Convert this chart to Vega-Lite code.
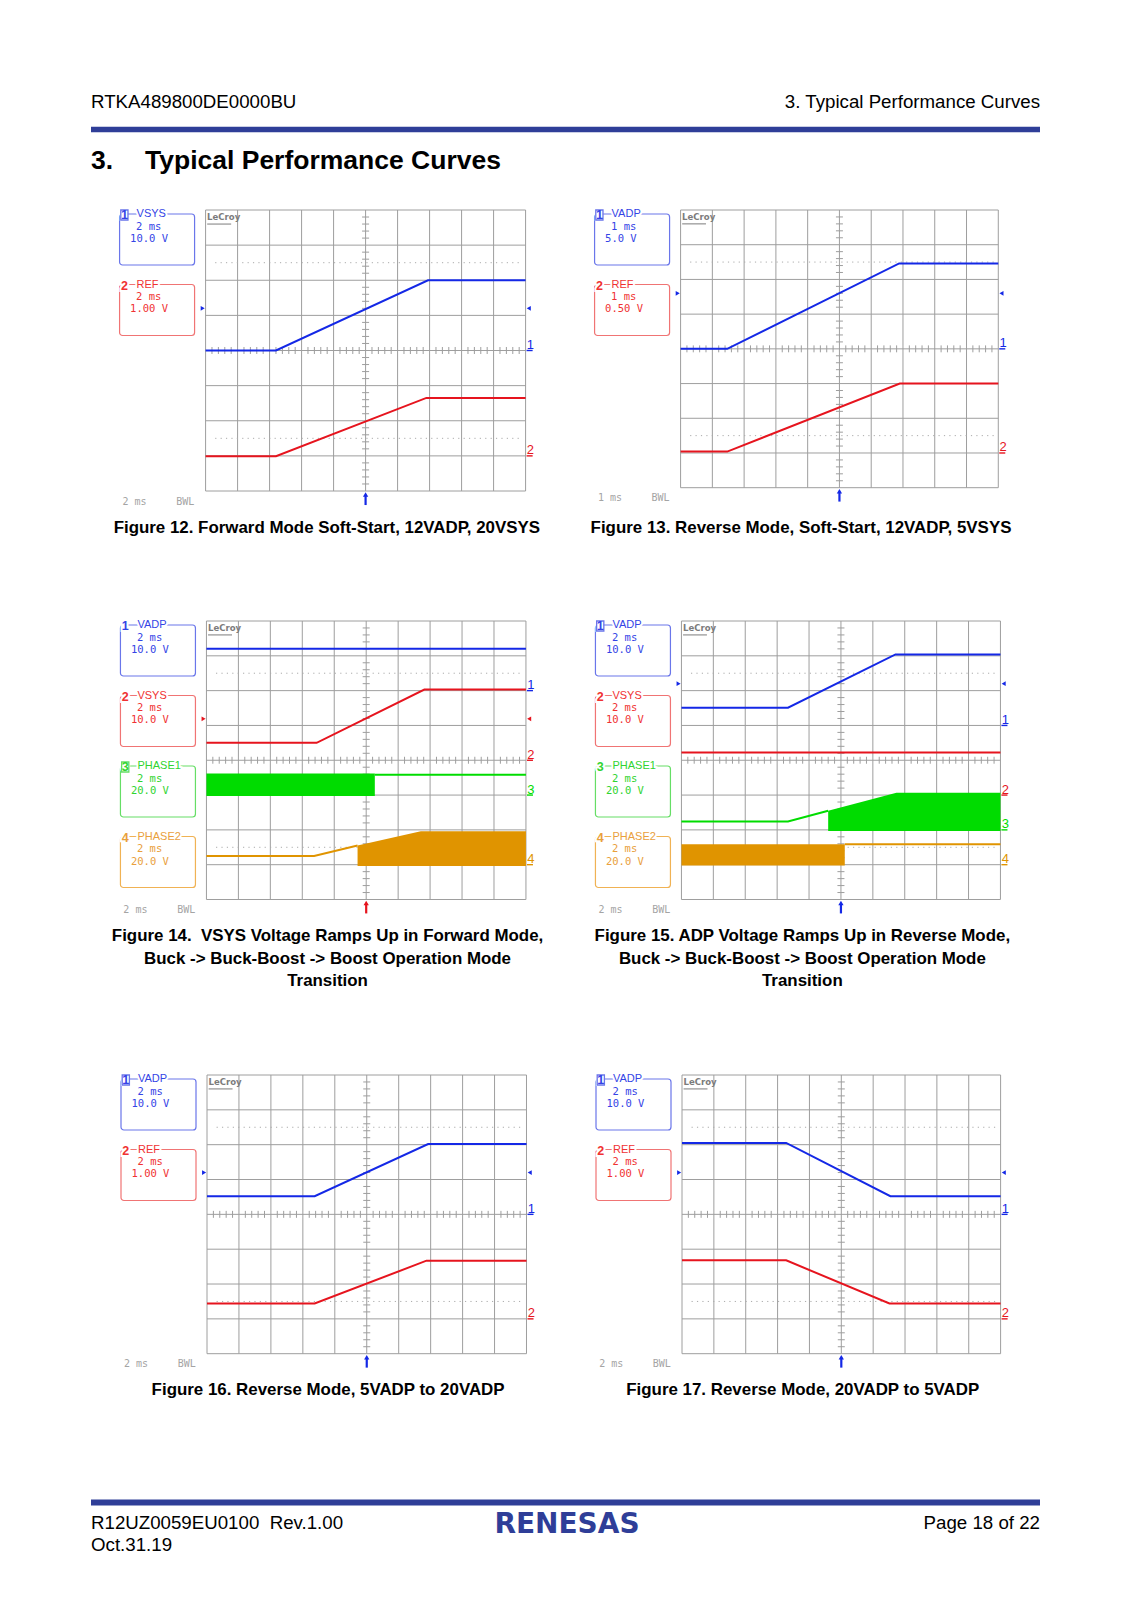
{
"$schema":"https://vega.github.io/schema/vega-lite/v6.json",
"background":"white",
"padding":{"left":91,"right":92,"top":80,"bottom":40},
"autosize":{"type":"pad"},
"config":{"view":{"stroke":null},"axis":{"disable":true},"legend":{"disable":true}},
"datasets":{
"gx":[{"d":0},{"d":1},{"d":2},{"d":3},{"d":4},{"d":5},{"d":6},{"d":7},{"d":8},{"d":9},{"d":10}],
"gy":[{"d":0},{"d":1},{"d":2},{"d":3},{"d":4},{"d":5},{"d":6},{"d":7},{"d":8}],
"gdot":[{"d":1.5},{"d":6.5}],
"mx":[{"d":0.2},{"d":0.4},{"d":0.6},{"d":0.8},{"d":1.2},{"d":1.4},{"d":1.6},{"d":1.8},{"d":2.2},{"d":2.4},{"d":2.6},{"d":2.8},{"d":3.2},{"d":3.4},{"d":3.6},{"d":3.8},{"d":4.2},{"d":4.4},{"d":4.6},{"d":4.8},{"d":5.2},{"d":5.4},{"d":5.6},{"d":5.8},{"d":6.2},{"d":6.4},{"d":6.6},{"d":6.8},{"d":7.2},{"d":7.4},{"d":7.6},{"d":7.8},{"d":8.2},{"d":8.4},{"d":8.6},{"d":8.8},{"d":9.2},{"d":9.4},{"d":9.6},{"d":9.8}],
"my":[{"d":0.2},{"d":0.4},{"d":0.6},{"d":0.8},{"d":1.2},{"d":1.4},{"d":1.6},{"d":1.8},{"d":2.2},{"d":2.4},{"d":2.6},{"d":2.8},{"d":3.2},{"d":3.4},{"d":3.6},{"d":3.8},{"d":4.2},{"d":4.4},{"d":4.6},{"d":4.8},{"d":5.2},{"d":5.4},{"d":5.6},{"d":5.8},{"d":6.2},{"d":6.4},{"d":6.6},{"d":6.8},{"d":7.2},{"d":7.4},{"d":7.6},{"d":7.8}]
},
"spacing":0,
"center":true,
"vconcat":[
{"width":949,"height":120.3,
 "layer":[
  {"data":{"values":[{"t":"RTKA489800DE0000BU"}]},"mark":{"type":"text","align":"left","baseline":"middle","font":"Liberation Sans","fontSize":18.7,"color":"black"},"encoding":{"x":{"value":0},"y":{"value":22},"text":{"field":"t"}}},
  {"data":{"values":[{"t":"3. Typical Performance Curves"}]},"mark":{"type":"text","align":"right","baseline":"middle","font":"Liberation Sans","fontSize":18.7,"color":"black"},"encoding":{"x":{"value":"width"},"y":{"value":22},"text":{"field":"t"}}},
  {"data":{"values":[{"t":"rule"}]},"mark":{"type":"rect","color":"#2f3e98"},"encoding":{"x":{"value":0},"x2":{"value":"width"},"y":{"value":46.7},"y2":{"value":52.3}}},
  {"data":{"values":[{"t":"3."}]},"mark":{"type":"text","align":"left","baseline":"middle","font":"Liberation Sans","fontSize":26.5,"fontWeight":"bold","color":"black"},"encoding":{"x":{"value":0},"y":{"value":81},"text":{"field":"t"}}},
  {"data":{"values":[{"t":"Typical Performance Curves"}]},"mark":{"type":"text","align":"left","baseline":"middle","font":"Liberation Sans","fontSize":26.5,"fontWeight":"bold","color":"black"},"encoding":{"x":{"value":54},"y":{"value":81},"text":{"field":"t"}}}
 ]},
{"hconcat":[
 {"width":75,"height":270.5,
  "data":{"values":[{"ch":"1","name":"VSYS","tdiv":"2 ms","vdiv":"10.0 V","sel":true},{"ch":"2","name":"REF","tdiv":"2 ms","vdiv":"1.00 V","sel":false}]},
  "encoding":{"y":{"field":"ch","type":"nominal","scale":{"domain":["1","2","3","4"],"paddingInner":0.277,"paddingOuter":0.0567}}},
  "layer":[
   {"mark":{"type":"rect","fill":"white","cornerRadius":3,"strokeWidth":1.2},"encoding":{"x":{"value":0},"x2":{"value":"width"},"stroke":{"field":"ch","type":"nominal","scale":{"domain":["1","2","3","4"],"range":["#6a76ea","#f07474","#66de66","#f0b254"]}}}},
   {"mark":{"type":"text","align":"center","baseline":"middle","dy":1,"font":"Liberation Sans","fontSize":12.5,"fontWeight":"bold","fill":"white","stroke":"white","strokeWidth":4},"encoding":{"x":{"value":4.8},"y":{"field":"ch","type":"nominal","bandPosition":0},"text":{"field":"ch"}}},
   {"mark":{"type":"text","align":"left","baseline":"middle","font":"Liberation Sans","fontSize":11,"fill":"white","stroke":"white","strokeWidth":4},"encoding":{"x":{"value":17},"y":{"field":"ch","type":"nominal","bandPosition":0},"text":{"field":"name"}}},
   {"transform":[{"filter":"datum.sel"}],"mark":{"type":"point","shape":"M-0.45,-0.5H0.45V0.75H-0.45Z","size":256,"filled":false,"strokeWidth":1.3,"opacity":1},"encoding":{"x":{"value":4.8},"y":{"field":"ch","type":"nominal","bandPosition":0},"stroke":{"field":"ch","type":"nominal","scale":{"domain":["1","2","3","4"],"range":["#6a76ea","#f07474","#66de66","#f0b254"]}}}},
   {"mark":{"type":"text","align":"center","baseline":"middle","dy":1,"font":"Liberation Sans","fontSize":12.5,"fontWeight":"bold"},"encoding":{"x":{"value":4.8},"y":{"field":"ch","type":"nominal","bandPosition":0},"text":{"field":"ch"},"fill":{"field":"ch","type":"nominal","scale":{"domain":["1","2","3","4"],"range":["#3444e6","#f03232","#30d430","#e9a03c"]}}}},
   {"mark":{"type":"text","align":"left","baseline":"middle","font":"Liberation Sans","fontSize":11},"encoding":{"x":{"value":17},"y":{"field":"ch","type":"nominal","bandPosition":0},"text":{"field":"name"},"fill":{"field":"ch","type":"nominal","scale":{"domain":["1","2","3","4"],"range":["#3444e6","#f03232","#30d430","#e9a03c"]}}}},
   {"mark":{"type":"text","align":"left","baseline":"middle","font":"DejaVu Sans Mono","fontSize":10.5},"encoding":{"x":{"value":16.5},"y":{"field":"ch","type":"nominal","bandPosition":0.25},"text":{"field":"tdiv"},"fill":{"field":"ch","type":"nominal","scale":{"domain":["1","2","3","4"],"range":["#3444e6","#f03232","#30d430","#e9a03c"]}}}},
   {"mark":{"type":"text","align":"left","baseline":"middle","font":"DejaVu Sans Mono","fontSize":10.5},"encoding":{"x":{"value":10.5},"y":{"field":"ch","type":"nominal","bandPosition":0.49},"text":{"field":"vdiv"},"fill":{"field":"ch","type":"nominal","scale":{"domain":["1","2","3","4"],"range":["#3444e6","#f03232","#30d430","#e9a03c"]}}}}
  ]},
 {"width":378,"height":281,
  "data":{"values":[
   {"kind":"line","ch":"1","k":"1","t":0,"v":4.0},{"kind":"line","ch":"1","k":"1","t":2.2,"v":4.0},{"kind":"line","ch":"1","k":"1","t":6.95,"v":6.0},{"kind":"line","ch":"1","k":"1","t":10,"v":6.0},
   {"kind":"line","ch":"2","k":"2","t":0,"v":0.99},{"kind":"line","ch":"2","k":"2","t":2.2,"v":0.99},{"kind":"line","ch":"2","k":"2","t":6.9,"v":2.65},{"kind":"line","ch":"2","k":"2","t":10,"v":2.65},
   {"kind":"trig","ch":"1","v":5.2},{"kind":"gnd","ch":"1","v":4},{"kind":"gnd","ch":"2","v":1},{"kind":"arrow","ch":"1"},
   {"kind":"tb","tb":"2 ms","bw":"BWL"},
   {"kind":"cap","cap":"Figure 12. Forward Mode Soft-Start, 12VADP, 20VSYS"}]},
  "layer":[
   {"data":{"name":"gx"},"mark":{"type":"rule","color":"#9e9e9e","strokeWidth":1},"encoding":{"x":{"field":"d","type":"quantitative","scale":{"domain":[0,11.8125],"nice":false,"zero":false}},"y":{"datum":0,"type":"quantitative","scale":{"domain":[0,8],"nice":false,"zero":false}},"y2":{"datum":8}}},
   {"data":{"name":"gy"},"mark":{"type":"rule","color":"#9e9e9e","strokeWidth":1},"encoding":{"y":{"field":"d","type":"quantitative"},"x":{"datum":0,"type":"quantitative"},"x2":{"datum":10}}},
   {"data":{"name":"gdot"},"mark":{"type":"rule","color":"#ababab","strokeWidth":1,"strokeDash":[1.2,4.2]},"encoding":{"y":{"field":"d","type":"quantitative"},"x":{"datum":0.3,"type":"quantitative"},"x2":{"datum":9.9}}},
   {"data":{"name":"mx"},"mark":{"type":"rule","color":"#9e9e9e","strokeWidth":1},"encoding":{"x":{"field":"d","type":"quantitative"},"y":{"datum":3.9,"type":"quantitative"},"y2":{"datum":4.1}}},
   {"data":{"name":"my"},"mark":{"type":"rule","color":"#9e9e9e","strokeWidth":1},"encoding":{"y":{"field":"d","type":"quantitative"},"x":{"datum":4.89,"type":"quantitative"},"x2":{"datum":5.11}}},
   {"data":{"values":[{"t":"LeCroy"}]},"mark":{"type":"text","align":"left","baseline":"top","dx":1.5,"dy":2,"font":"DejaVu Sans Condensed","fontSize":9.5,"fontWeight":"bold","color":"#7c7c7c"},"encoding":{"x":{"datum":0,"type":"quantitative"},"y":{"datum":8,"type":"quantitative"},"text":{"field":"t"}}},
   {"data":{"values":[{"t":"LeCroy"}]},"mark":{"type":"rule","color":"#7c7c7c","strokeWidth":1},"encoding":{"x":{"datum":0.05,"type":"quantitative"},"x2":{"datum":0.8},"y":{"datum":7.6,"type":"quantitative"}}},
   {"data":{"values":[{"t":"top"}]},"mark":{"type":"rule","strokeWidth":0,"strokeOpacity":0},"encoding":{"x":{"datum":0,"type":"quantitative"},"x2":{"datum":10},"y":{"datum":8.24,"type":"quantitative"}}},
   {"data":{"values":[{"t":"bottom"}]},"mark":{"type":"rule","strokeWidth":0,"strokeOpacity":0},"encoding":{"x":{"datum":0,"type":"quantitative"},"x2":{"datum":10},"y":{"datum":-3.435,"type":"quantitative"}}},
   {"transform":[{"filter":"datum.kind=='band'"}],"mark":{"type":"area","opacity":1},"encoding":{"x":{"field":"t","type":"quantitative"},"y":{"field":"hi","type":"quantitative"},"y2":{"field":"lo"},"detail":{"field":"k"},"color":{"field":"ch","type":"nominal","scale":{"domain":["1","2","3","4"],"range":["#1428e6","#e6141e","#00dc00","#e09400"]}}}},
   {"transform":[{"filter":"datum.kind=='line'"}],"mark":{"type":"line","strokeWidth":2},"encoding":{"x":{"field":"t","type":"quantitative"},"y":{"field":"v","type":"quantitative"},"detail":{"field":"k"},"color":{"field":"ch","type":"nominal","scale":{"domain":["1","2","3","4"],"range":["#1428e6","#e6141e","#00dc00","#e09400"]}}}},
   {"transform":[{"filter":"datum.kind=='trig'"}],"mark":{"type":"point","shape":"triangle-right","filled":true,"size":22,"opacity":1},"encoding":{"x":{"datum":-0.09,"type":"quantitative"},"y":{"field":"v","type":"quantitative"},"color":{"field":"ch","type":"nominal","scale":{"domain":["1","2","3","4"],"range":["#1428e6","#e6141e","#00dc00","#e09400"]}}}},
   {"transform":[{"filter":"datum.kind=='trig'"}],"mark":{"type":"point","shape":"triangle-left","filled":true,"size":22,"opacity":1},"encoding":{"x":{"datum":10.1,"type":"quantitative"},"y":{"field":"v","type":"quantitative"},"color":{"field":"ch","type":"nominal","scale":{"domain":["1","2","3","4"],"range":["#1428e6","#e6141e","#00dc00","#e09400"]}}}},
   {"transform":[{"filter":"datum.kind=='gnd'"}],"mark":{"type":"text","align":"left","baseline":"alphabetic","dx":1.2,"dy":-1.5,"font":"Liberation Sans","fontSize":13},"encoding":{"x":{"datum":10,"type":"quantitative"},"y":{"field":"v","type":"quantitative"},"text":{"field":"ch"},"color":{"field":"ch","type":"nominal","scale":{"domain":["1","2","3","4"],"range":["#1428e6","#e6141e","#00dc00","#e09400"]}}}},
   {"transform":[{"filter":"datum.kind=='gnd'"}],"mark":{"type":"rule","strokeWidth":1.4},"encoding":{"x":{"datum":10.03,"type":"quantitative"},"x2":{"datum":10.22},"y":{"field":"v","type":"quantitative"},"color":{"field":"ch","type":"nominal","scale":{"domain":["1","2","3","4"],"range":["#1428e6","#e6141e","#00dc00","#e09400"]}}}},
   {"transform":[{"filter":"datum.kind=='arrow'"}],"mark":{"type":"rule","strokeWidth":2.2},"encoding":{"x":{"datum":5,"type":"quantitative"},"y":{"datum":-0.12,"type":"quantitative"},"y2":{"datum":-0.4},"color":{"field":"ch","type":"nominal","scale":{"domain":["1","2","3","4"],"range":["#1428e6","#e6141e","#00dc00","#e09400"]}}}},
   {"transform":[{"filter":"datum.kind=='arrow'"}],"mark":{"type":"point","shape":"triangle-up","filled":true,"size":28,"opacity":1},"encoding":{"x":{"datum":5,"type":"quantitative"},"y":{"datum":-0.1,"type":"quantitative"},"color":{"field":"ch","type":"nominal","scale":{"domain":["1","2","3","4"],"range":["#1428e6","#e6141e","#00dc00","#e09400"]}}}},
   {"transform":[{"filter":"datum.kind=='tb'"}],"mark":{"type":"text","align":"left","baseline":"middle","font":"DejaVu Sans Mono","fontSize":10,"color":"#a4a4a4"},"encoding":{"x":{"datum":-2.6,"type":"quantitative"},"y":{"datum":-0.31,"type":"quantitative"},"text":{"field":"tb"}}},
   {"transform":[{"filter":"datum.kind=='tb'"}],"mark":{"type":"text","align":"right","baseline":"middle","font":"DejaVu Sans Mono","fontSize":10,"color":"#a4a4a4"},"encoding":{"x":{"datum":-0.35,"type":"quantitative"},"y":{"datum":-0.31,"type":"quantitative"},"text":{"field":"bw"}}},
   {"transform":[{"filter":"datum.kind=='cap'"}],"mark":{"type":"text","align":"center","baseline":"top","font":"Liberation Sans","fontSize":16.9,"fontWeight":"bold","color":"black","lineHeight":22.7,"lineBreak":"\n"},"encoding":{"x":{"datum":3.79,"type":"quantitative"},"y":{"datum":-0.82,"type":"quantitative"},"text":{"field":"cap"}}}
  ]},
 {"width":75,"height":270.5,
  "data":{"values":[{"ch":"1","name":"VADP","tdiv":"1 ms","vdiv":"5.0 V","sel":true},{"ch":"2","name":"REF","tdiv":"1 ms","vdiv":"0.50 V","sel":false}]},
  "encoding":{"y":{"field":"ch","type":"nominal","scale":{"domain":["1","2","3","4"],"paddingInner":0.277,"paddingOuter":0.0567}}},
  "layer":[
   {"mark":{"type":"rect","fill":"white","cornerRadius":3,"strokeWidth":1.2},"encoding":{"x":{"value":0},"x2":{"value":"width"},"stroke":{"field":"ch","type":"nominal","scale":{"domain":["1","2","3","4"],"range":["#6a76ea","#f07474","#66de66","#f0b254"]}}}},
   {"mark":{"type":"text","align":"center","baseline":"middle","dy":1,"font":"Liberation Sans","fontSize":12.5,"fontWeight":"bold","fill":"white","stroke":"white","strokeWidth":4},"encoding":{"x":{"value":4.8},"y":{"field":"ch","type":"nominal","bandPosition":0},"text":{"field":"ch"}}},
   {"mark":{"type":"text","align":"left","baseline":"middle","font":"Liberation Sans","fontSize":11,"fill":"white","stroke":"white","strokeWidth":4},"encoding":{"x":{"value":17},"y":{"field":"ch","type":"nominal","bandPosition":0},"text":{"field":"name"}}},
   {"transform":[{"filter":"datum.sel"}],"mark":{"type":"point","shape":"M-0.45,-0.5H0.45V0.75H-0.45Z","size":256,"filled":false,"strokeWidth":1.3,"opacity":1},"encoding":{"x":{"value":4.8},"y":{"field":"ch","type":"nominal","bandPosition":0},"stroke":{"field":"ch","type":"nominal","scale":{"domain":["1","2","3","4"],"range":["#6a76ea","#f07474","#66de66","#f0b254"]}}}},
   {"mark":{"type":"text","align":"center","baseline":"middle","dy":1,"font":"Liberation Sans","fontSize":12.5,"fontWeight":"bold"},"encoding":{"x":{"value":4.8},"y":{"field":"ch","type":"nominal","bandPosition":0},"text":{"field":"ch"},"fill":{"field":"ch","type":"nominal","scale":{"domain":["1","2","3","4"],"range":["#3444e6","#f03232","#30d430","#e9a03c"]}}}},
   {"mark":{"type":"text","align":"left","baseline":"middle","font":"Liberation Sans","fontSize":11},"encoding":{"x":{"value":17},"y":{"field":"ch","type":"nominal","bandPosition":0},"text":{"field":"name"},"fill":{"field":"ch","type":"nominal","scale":{"domain":["1","2","3","4"],"range":["#3444e6","#f03232","#30d430","#e9a03c"]}}}},
   {"mark":{"type":"text","align":"left","baseline":"middle","font":"DejaVu Sans Mono","fontSize":10.5},"encoding":{"x":{"value":16.5},"y":{"field":"ch","type":"nominal","bandPosition":0.25},"text":{"field":"tdiv"},"fill":{"field":"ch","type":"nominal","scale":{"domain":["1","2","3","4"],"range":["#3444e6","#f03232","#30d430","#e9a03c"]}}}},
   {"mark":{"type":"text","align":"left","baseline":"middle","font":"DejaVu Sans Mono","fontSize":10.5},"encoding":{"x":{"value":10.5},"y":{"field":"ch","type":"nominal","bandPosition":0.49},"text":{"field":"vdiv"},"fill":{"field":"ch","type":"nominal","scale":{"domain":["1","2","3","4"],"range":["#3444e6","#f03232","#30d430","#e9a03c"]}}}}
  ]},
 {"width":328,"height":277.7,
  "data":{"values":[
   {"kind":"line","ch":"1","k":"1","t":0,"v":4.0},{"kind":"line","ch":"1","k":"1","t":1.47,"v":4.0},{"kind":"line","ch":"1","k":"1","t":6.88,"v":6.46},{"kind":"line","ch":"1","k":"1","t":10,"v":6.46},
   {"kind":"line","ch":"2","k":"2","t":0,"v":1.04},{"kind":"line","ch":"2","k":"2","t":1.47,"v":1.04},{"kind":"line","ch":"2","k":"2","t":6.9,"v":3.0},{"kind":"line","ch":"2","k":"2","t":10,"v":3.0},
   {"kind":"trig","ch":"1","v":5.6},{"kind":"gnd","ch":"1","v":4},{"kind":"gnd","ch":"2","v":1},{"kind":"arrow","ch":"1"},
   {"kind":"tb","tb":"1 ms","bw":"BWL"},
   {"kind":"cap","cap":"Figure 13. Reverse Mode, Soft-Start, 12VADP, 5VSYS"}]},
  "layer":[
   {"data":{"name":"gx"},"mark":{"type":"rule","color":"#9e9e9e","strokeWidth":1},"encoding":{"x":{"field":"d","type":"quantitative","scale":{"domain":[0,10.324],"nice":false,"zero":false}},"y":{"datum":0,"type":"quantitative","scale":{"domain":[0,8],"nice":false,"zero":false}},"y2":{"datum":8}}},
   {"data":{"name":"gy"},"mark":{"type":"rule","color":"#9e9e9e","strokeWidth":1},"encoding":{"y":{"field":"d","type":"quantitative"},"x":{"datum":0,"type":"quantitative"},"x2":{"datum":10}}},
   {"data":{"name":"gdot"},"mark":{"type":"rule","color":"#ababab","strokeWidth":1,"strokeDash":[1.2,4.2]},"encoding":{"y":{"field":"d","type":"quantitative"},"x":{"datum":0.3,"type":"quantitative"},"x2":{"datum":9.9}}},
   {"data":{"name":"mx"},"mark":{"type":"rule","color":"#9e9e9e","strokeWidth":1},"encoding":{"x":{"field":"d","type":"quantitative"},"y":{"datum":3.9,"type":"quantitative"},"y2":{"datum":4.1}}},
   {"data":{"name":"my"},"mark":{"type":"rule","color":"#9e9e9e","strokeWidth":1},"encoding":{"y":{"field":"d","type":"quantitative"},"x":{"datum":4.89,"type":"quantitative"},"x2":{"datum":5.11}}},
   {"data":{"values":[{"t":"LeCroy"}]},"mark":{"type":"text","align":"left","baseline":"top","dx":1.5,"dy":2,"font":"DejaVu Sans Condensed","fontSize":9.5,"fontWeight":"bold","color":"#7c7c7c"},"encoding":{"x":{"datum":0,"type":"quantitative"},"y":{"datum":8,"type":"quantitative"},"text":{"field":"t"}}},
   {"data":{"values":[{"t":"LeCroy"}]},"mark":{"type":"rule","color":"#7c7c7c","strokeWidth":1},"encoding":{"x":{"datum":0.05,"type":"quantitative"},"x2":{"datum":0.8},"y":{"datum":7.6,"type":"quantitative"}}},
   {"transform":[{"filter":"datum.kind=='band'"}],"mark":{"type":"area","opacity":1},"encoding":{"x":{"field":"t","type":"quantitative"},"y":{"field":"hi","type":"quantitative"},"y2":{"field":"lo"},"detail":{"field":"k"},"color":{"field":"ch","type":"nominal","scale":{"domain":["1","2","3","4"],"range":["#1428e6","#e6141e","#00dc00","#e09400"]}}}},
   {"transform":[{"filter":"datum.kind=='line'"}],"mark":{"type":"line","strokeWidth":2},"encoding":{"x":{"field":"t","type":"quantitative"},"y":{"field":"v","type":"quantitative"},"detail":{"field":"k"},"color":{"field":"ch","type":"nominal","scale":{"domain":["1","2","3","4"],"range":["#1428e6","#e6141e","#00dc00","#e09400"]}}}},
   {"transform":[{"filter":"datum.kind=='trig'"}],"mark":{"type":"point","shape":"triangle-right","filled":true,"size":22,"opacity":1},"encoding":{"x":{"datum":-0.09,"type":"quantitative"},"y":{"field":"v","type":"quantitative"},"color":{"field":"ch","type":"nominal","scale":{"domain":["1","2","3","4"],"range":["#1428e6","#e6141e","#00dc00","#e09400"]}}}},
   {"transform":[{"filter":"datum.kind=='trig'"}],"mark":{"type":"point","shape":"triangle-left","filled":true,"size":22,"opacity":1},"encoding":{"x":{"datum":10.1,"type":"quantitative"},"y":{"field":"v","type":"quantitative"},"color":{"field":"ch","type":"nominal","scale":{"domain":["1","2","3","4"],"range":["#1428e6","#e6141e","#00dc00","#e09400"]}}}},
   {"transform":[{"filter":"datum.kind=='gnd'"}],"mark":{"type":"text","align":"left","baseline":"alphabetic","dx":1.2,"dy":-1.5,"font":"Liberation Sans","fontSize":13},"encoding":{"x":{"datum":10,"type":"quantitative"},"y":{"field":"v","type":"quantitative"},"text":{"field":"ch"},"color":{"field":"ch","type":"nominal","scale":{"domain":["1","2","3","4"],"range":["#1428e6","#e6141e","#00dc00","#e09400"]}}}},
   {"transform":[{"filter":"datum.kind=='gnd'"}],"mark":{"type":"rule","strokeWidth":1.4},"encoding":{"x":{"datum":10.03,"type":"quantitative"},"x2":{"datum":10.22},"y":{"field":"v","type":"quantitative"},"color":{"field":"ch","type":"nominal","scale":{"domain":["1","2","3","4"],"range":["#1428e6","#e6141e","#00dc00","#e09400"]}}}},
   {"transform":[{"filter":"datum.kind=='arrow'"}],"mark":{"type":"rule","strokeWidth":2.2},"encoding":{"x":{"datum":5,"type":"quantitative"},"y":{"datum":-0.12,"type":"quantitative"},"y2":{"datum":-0.4},"color":{"field":"ch","type":"nominal","scale":{"domain":["1","2","3","4"],"range":["#1428e6","#e6141e","#00dc00","#e09400"]}}}},
   {"transform":[{"filter":"datum.kind=='arrow'"}],"mark":{"type":"point","shape":"triangle-up","filled":true,"size":28,"opacity":1},"encoding":{"x":{"datum":5,"type":"quantitative"},"y":{"datum":-0.1,"type":"quantitative"},"color":{"field":"ch","type":"nominal","scale":{"domain":["1","2","3","4"],"range":["#1428e6","#e6141e","#00dc00","#e09400"]}}}},
   {"transform":[{"filter":"datum.kind=='tb'"}],"mark":{"type":"text","align":"left","baseline":"middle","font":"DejaVu Sans Mono","fontSize":10,"color":"#a4a4a4"},"encoding":{"x":{"datum":-2.6,"type":"quantitative"},"y":{"datum":-0.31,"type":"quantitative"},"text":{"field":"tb"}}},
   {"transform":[{"filter":"datum.kind=='tb'"}],"mark":{"type":"text","align":"right","baseline":"middle","font":"DejaVu Sans Mono","fontSize":10,"color":"#a4a4a4"},"encoding":{"x":{"datum":-0.35,"type":"quantitative"},"y":{"datum":-0.31,"type":"quantitative"},"text":{"field":"bw"}}},
   {"transform":[{"filter":"datum.kind=='cap'"}],"mark":{"type":"text","align":"center","baseline":"top","font":"Liberation Sans","fontSize":16.9,"fontWeight":"bold","color":"black","lineHeight":22.7,"lineBreak":"\n"},"encoding":{"x":{"datum":3.79,"type":"quantitative"},"y":{"datum":-0.92,"type":"quantitative"},"text":{"field":"cap"}}}
  ]}
 ],"spacing":11,"bounds":"flush"},
{"hconcat":[
 {"width":75,"height":270.5,
  "data":{"values":[{"ch":"1","name":"VADP","tdiv":"2 ms","vdiv":"10.0 V","sel":false},{"ch":"2","name":"VSYS","tdiv":"2 ms","vdiv":"10.0 V","sel":false},{"ch":"3","name":"PHASE1","tdiv":"2 ms","vdiv":"20.0 V","sel":true},{"ch":"4","name":"PHASE2","tdiv":"2 ms","vdiv":"20.0 V","sel":false}]},
  "encoding":{"y":{"field":"ch","type":"nominal","scale":{"domain":["1","2","3","4"],"paddingInner":0.277,"paddingOuter":0.0567}}},
  "layer":[
   {"mark":{"type":"rect","fill":"white","cornerRadius":3,"strokeWidth":1.2},"encoding":{"x":{"value":0},"x2":{"value":"width"},"stroke":{"field":"ch","type":"nominal","scale":{"domain":["1","2","3","4"],"range":["#6a76ea","#f07474","#66de66","#f0b254"]}}}},
   {"mark":{"type":"text","align":"center","baseline":"middle","dy":1,"font":"Liberation Sans","fontSize":12.5,"fontWeight":"bold","fill":"white","stroke":"white","strokeWidth":4},"encoding":{"x":{"value":4.8},"y":{"field":"ch","type":"nominal","bandPosition":0},"text":{"field":"ch"}}},
   {"mark":{"type":"text","align":"left","baseline":"middle","font":"Liberation Sans","fontSize":11,"fill":"white","stroke":"white","strokeWidth":4},"encoding":{"x":{"value":17},"y":{"field":"ch","type":"nominal","bandPosition":0},"text":{"field":"name"}}},
   {"transform":[{"filter":"datum.sel"}],"mark":{"type":"point","shape":"M-0.45,-0.5H0.45V0.75H-0.45Z","size":256,"filled":false,"strokeWidth":1.3,"opacity":1},"encoding":{"x":{"value":4.8},"y":{"field":"ch","type":"nominal","bandPosition":0},"stroke":{"field":"ch","type":"nominal","scale":{"domain":["1","2","3","4"],"range":["#6a76ea","#f07474","#66de66","#f0b254"]}}}},
   {"mark":{"type":"text","align":"center","baseline":"middle","dy":1,"font":"Liberation Sans","fontSize":12.5,"fontWeight":"bold"},"encoding":{"x":{"value":4.8},"y":{"field":"ch","type":"nominal","bandPosition":0},"text":{"field":"ch"},"fill":{"field":"ch","type":"nominal","scale":{"domain":["1","2","3","4"],"range":["#3444e6","#f03232","#30d430","#e9a03c"]}}}},
   {"mark":{"type":"text","align":"left","baseline":"middle","font":"Liberation Sans","fontSize":11},"encoding":{"x":{"value":17},"y":{"field":"ch","type":"nominal","bandPosition":0},"text":{"field":"name"},"fill":{"field":"ch","type":"nominal","scale":{"domain":["1","2","3","4"],"range":["#3444e6","#f03232","#30d430","#e9a03c"]}}}},
   {"mark":{"type":"text","align":"left","baseline":"middle","font":"DejaVu Sans Mono","fontSize":10.5},"encoding":{"x":{"value":16.5},"y":{"field":"ch","type":"nominal","bandPosition":0.25},"text":{"field":"tdiv"},"fill":{"field":"ch","type":"nominal","scale":{"domain":["1","2","3","4"],"range":["#3444e6","#f03232","#30d430","#e9a03c"]}}}},
   {"mark":{"type":"text","align":"left","baseline":"middle","font":"DejaVu Sans Mono","fontSize":10.5},"encoding":{"x":{"value":10.5},"y":{"field":"ch","type":"nominal","bandPosition":0.49},"text":{"field":"vdiv"},"fill":{"field":"ch","type":"nominal","scale":{"domain":["1","2","3","4"],"range":["#3444e6","#f03232","#30d430","#e9a03c"]}}}}
  ]},
 {"width":378,"height":278.5,
  "data":{"values":[
   {"kind":"line","ch":"1","k":"1","t":0,"v":7.2},{"kind":"line","ch":"1","k":"1","t":10,"v":7.2},
   {"kind":"line","ch":"2","k":"2","t":0,"v":4.5},{"kind":"line","ch":"2","k":"2","t":3.45,"v":4.5},{"kind":"line","ch":"2","k":"2","t":6.82,"v":6.03},{"kind":"line","ch":"2","k":"2","t":10,"v":6.03},
   {"kind":"band","ch":"3","k":"3a","t":0,"hi":3.62,"lo":2.97},{"kind":"band","ch":"3","k":"3a","t":5.27,"hi":3.62,"lo":2.97},
   {"kind":"line","ch":"3","k":"3b","t":5.27,"v":3.58},{"kind":"line","ch":"3","k":"3b","t":10,"v":3.58},
   {"kind":"line","ch":"4","k":"4a","t":0,"v":1.25},{"kind":"line","ch":"4","k":"4a","t":3.37,"v":1.25},{"kind":"line","ch":"4","k":"4a","t":4.73,"v":1.55},
   {"kind":"band","ch":"4","k":"4b","t":4.73,"hi":1.55,"lo":0.96},{"kind":"band","ch":"4","k":"4b","t":6.71,"hi":1.96,"lo":0.96},{"kind":"band","ch":"4","k":"4b","t":10,"hi":1.96,"lo":0.96},
   {"kind":"trig","ch":"2","v":5.19},{"kind":"gnd","ch":"1","v":6},{"kind":"gnd","ch":"2","v":4},{"kind":"gnd","ch":"3","v":3},{"kind":"gnd","ch":"4","v":1},{"kind":"arrow","ch":"2"},
   {"kind":"tb","tb":"2 ms","bw":"BWL"},
   {"kind":"cap","cap":"Figure 14.\u00a0 VSYS Voltage Ramps Up in Forward Mode,\nBuck -> Buck-Boost -> Boost Operation Mode\nTransition"}]},
  "layer":[
   {"data":{"name":"gx"},"mark":{"type":"rule","color":"#9e9e9e","strokeWidth":1},"encoding":{"x":{"field":"d","type":"quantitative","scale":{"domain":[0,11.831],"nice":false,"zero":false}},"y":{"datum":0,"type":"quantitative","scale":{"domain":[0,8],"nice":false,"zero":false}},"y2":{"datum":8}}},
   {"data":{"name":"gy"},"mark":{"type":"rule","color":"#9e9e9e","strokeWidth":1},"encoding":{"y":{"field":"d","type":"quantitative"},"x":{"datum":0,"type":"quantitative"},"x2":{"datum":10}}},
   {"data":{"name":"gdot"},"mark":{"type":"rule","color":"#ababab","strokeWidth":1,"strokeDash":[1.2,4.2]},"encoding":{"y":{"field":"d","type":"quantitative"},"x":{"datum":0.3,"type":"quantitative"},"x2":{"datum":9.9}}},
   {"data":{"name":"mx"},"mark":{"type":"rule","color":"#9e9e9e","strokeWidth":1},"encoding":{"x":{"field":"d","type":"quantitative"},"y":{"datum":3.9,"type":"quantitative"},"y2":{"datum":4.1}}},
   {"data":{"name":"my"},"mark":{"type":"rule","color":"#9e9e9e","strokeWidth":1},"encoding":{"y":{"field":"d","type":"quantitative"},"x":{"datum":4.89,"type":"quantitative"},"x2":{"datum":5.11}}},
   {"data":{"values":[{"t":"LeCroy"}]},"mark":{"type":"text","align":"left","baseline":"top","dx":1.5,"dy":2,"font":"DejaVu Sans Condensed","fontSize":9.5,"fontWeight":"bold","color":"#7c7c7c"},"encoding":{"x":{"datum":0,"type":"quantitative"},"y":{"datum":8,"type":"quantitative"},"text":{"field":"t"}}},
   {"data":{"values":[{"t":"LeCroy"}]},"mark":{"type":"rule","color":"#7c7c7c","strokeWidth":1},"encoding":{"x":{"datum":0.05,"type":"quantitative"},"x2":{"datum":0.8},"y":{"datum":7.6,"type":"quantitative"}}},
   {"data":{"values":[{"t":"top"}]},"mark":{"type":"rule","strokeWidth":0,"strokeOpacity":0},"encoding":{"x":{"datum":0,"type":"quantitative"},"x2":{"datum":10},"y":{"datum":8.24,"type":"quantitative"}}},
   {"data":{"values":[{"t":"bottom"}]},"mark":{"type":"rule","strokeWidth":0,"strokeOpacity":0},"encoding":{"x":{"datum":0,"type":"quantitative"},"x2":{"datum":10},"y":{"datum":-4.755,"type":"quantitative"}}},
   {"transform":[{"filter":"datum.kind=='band'"}],"mark":{"type":"area","opacity":1},"encoding":{"x":{"field":"t","type":"quantitative"},"y":{"field":"hi","type":"quantitative"},"y2":{"field":"lo"},"detail":{"field":"k"},"color":{"field":"ch","type":"nominal","scale":{"domain":["1","2","3","4"],"range":["#1428e6","#e6141e","#00dc00","#e09400"]}}}},
   {"transform":[{"filter":"datum.kind=='line'"}],"mark":{"type":"line","strokeWidth":2},"encoding":{"x":{"field":"t","type":"quantitative"},"y":{"field":"v","type":"quantitative"},"detail":{"field":"k"},"color":{"field":"ch","type":"nominal","scale":{"domain":["1","2","3","4"],"range":["#1428e6","#e6141e","#00dc00","#e09400"]}}}},
   {"transform":[{"filter":"datum.kind=='trig'"}],"mark":{"type":"point","shape":"triangle-right","filled":true,"size":22,"opacity":1},"encoding":{"x":{"datum":-0.09,"type":"quantitative"},"y":{"field":"v","type":"quantitative"},"color":{"field":"ch","type":"nominal","scale":{"domain":["1","2","3","4"],"range":["#1428e6","#e6141e","#00dc00","#e09400"]}}}},
   {"transform":[{"filter":"datum.kind=='trig'"}],"mark":{"type":"point","shape":"triangle-left","filled":true,"size":22,"opacity":1},"encoding":{"x":{"datum":10.1,"type":"quantitative"},"y":{"field":"v","type":"quantitative"},"color":{"field":"ch","type":"nominal","scale":{"domain":["1","2","3","4"],"range":["#1428e6","#e6141e","#00dc00","#e09400"]}}}},
   {"transform":[{"filter":"datum.kind=='gnd'"}],"mark":{"type":"text","align":"left","baseline":"alphabetic","dx":1.2,"dy":-1.5,"font":"Liberation Sans","fontSize":13},"encoding":{"x":{"datum":10,"type":"quantitative"},"y":{"field":"v","type":"quantitative"},"text":{"field":"ch"},"color":{"field":"ch","type":"nominal","scale":{"domain":["1","2","3","4"],"range":["#1428e6","#e6141e","#00dc00","#e09400"]}}}},
   {"transform":[{"filter":"datum.kind=='gnd'"}],"mark":{"type":"rule","strokeWidth":1.4},"encoding":{"x":{"datum":10.03,"type":"quantitative"},"x2":{"datum":10.22},"y":{"field":"v","type":"quantitative"},"color":{"field":"ch","type":"nominal","scale":{"domain":["1","2","3","4"],"range":["#1428e6","#e6141e","#00dc00","#e09400"]}}}},
   {"transform":[{"filter":"datum.kind=='arrow'"}],"mark":{"type":"rule","strokeWidth":2.2},"encoding":{"x":{"datum":5,"type":"quantitative"},"y":{"datum":-0.12,"type":"quantitative"},"y2":{"datum":-0.4},"color":{"field":"ch","type":"nominal","scale":{"domain":["1","2","3","4"],"range":["#1428e6","#e6141e","#00dc00","#e09400"]}}}},
   {"transform":[{"filter":"datum.kind=='arrow'"}],"mark":{"type":"point","shape":"triangle-up","filled":true,"size":28,"opacity":1},"encoding":{"x":{"datum":5,"type":"quantitative"},"y":{"datum":-0.1,"type":"quantitative"},"color":{"field":"ch","type":"nominal","scale":{"domain":["1","2","3","4"],"range":["#1428e6","#e6141e","#00dc00","#e09400"]}}}},
   {"transform":[{"filter":"datum.kind=='tb'"}],"mark":{"type":"text","align":"left","baseline":"middle","font":"DejaVu Sans Mono","fontSize":10,"color":"#a4a4a4"},"encoding":{"x":{"datum":-2.6,"type":"quantitative"},"y":{"datum":-0.31,"type":"quantitative"},"text":{"field":"tb"}}},
   {"transform":[{"filter":"datum.kind=='tb'"}],"mark":{"type":"text","align":"right","baseline":"middle","font":"DejaVu Sans Mono","fontSize":10,"color":"#a4a4a4"},"encoding":{"x":{"datum":-0.35,"type":"quantitative"},"y":{"datum":-0.31,"type":"quantitative"},"text":{"field":"bw"}}},
   {"transform":[{"filter":"datum.kind=='cap'"}],"mark":{"type":"text","align":"center","baseline":"top","font":"Liberation Sans","fontSize":16.9,"fontWeight":"bold","color":"black","lineHeight":22.7,"lineBreak":"\n"},"encoding":{"x":{"datum":3.79,"type":"quantitative"},"y":{"datum":-0.82,"type":"quantitative"},"text":{"field":"cap"}}}
  ]},
 {"width":75,"height":270.5,
  "data":{"values":[{"ch":"1","name":"VADP","tdiv":"2 ms","vdiv":"10.0 V","sel":true},{"ch":"2","name":"VSYS","tdiv":"2 ms","vdiv":"10.0 V","sel":false},{"ch":"3","name":"PHASE1","tdiv":"2 ms","vdiv":"20.0 V","sel":false},{"ch":"4","name":"PHASE2","tdiv":"2 ms","vdiv":"20.0 V","sel":false}]},
  "encoding":{"y":{"field":"ch","type":"nominal","scale":{"domain":["1","2","3","4"],"paddingInner":0.277,"paddingOuter":0.0567}}},
  "layer":[
   {"mark":{"type":"rect","fill":"white","cornerRadius":3,"strokeWidth":1.2},"encoding":{"x":{"value":0},"x2":{"value":"width"},"stroke":{"field":"ch","type":"nominal","scale":{"domain":["1","2","3","4"],"range":["#6a76ea","#f07474","#66de66","#f0b254"]}}}},
   {"mark":{"type":"text","align":"center","baseline":"middle","dy":1,"font":"Liberation Sans","fontSize":12.5,"fontWeight":"bold","fill":"white","stroke":"white","strokeWidth":4},"encoding":{"x":{"value":4.8},"y":{"field":"ch","type":"nominal","bandPosition":0},"text":{"field":"ch"}}},
   {"mark":{"type":"text","align":"left","baseline":"middle","font":"Liberation Sans","fontSize":11,"fill":"white","stroke":"white","strokeWidth":4},"encoding":{"x":{"value":17},"y":{"field":"ch","type":"nominal","bandPosition":0},"text":{"field":"name"}}},
   {"transform":[{"filter":"datum.sel"}],"mark":{"type":"point","shape":"M-0.45,-0.5H0.45V0.75H-0.45Z","size":256,"filled":false,"strokeWidth":1.3,"opacity":1},"encoding":{"x":{"value":4.8},"y":{"field":"ch","type":"nominal","bandPosition":0},"stroke":{"field":"ch","type":"nominal","scale":{"domain":["1","2","3","4"],"range":["#6a76ea","#f07474","#66de66","#f0b254"]}}}},
   {"mark":{"type":"text","align":"center","baseline":"middle","dy":1,"font":"Liberation Sans","fontSize":12.5,"fontWeight":"bold"},"encoding":{"x":{"value":4.8},"y":{"field":"ch","type":"nominal","bandPosition":0},"text":{"field":"ch"},"fill":{"field":"ch","type":"nominal","scale":{"domain":["1","2","3","4"],"range":["#3444e6","#f03232","#30d430","#e9a03c"]}}}},
   {"mark":{"type":"text","align":"left","baseline":"middle","font":"Liberation Sans","fontSize":11},"encoding":{"x":{"value":17},"y":{"field":"ch","type":"nominal","bandPosition":0},"text":{"field":"name"},"fill":{"field":"ch","type":"nominal","scale":{"domain":["1","2","3","4"],"range":["#3444e6","#f03232","#30d430","#e9a03c"]}}}},
   {"mark":{"type":"text","align":"left","baseline":"middle","font":"DejaVu Sans Mono","fontSize":10.5},"encoding":{"x":{"value":16.5},"y":{"field":"ch","type":"nominal","bandPosition":0.25},"text":{"field":"tdiv"},"fill":{"field":"ch","type":"nominal","scale":{"domain":["1","2","3","4"],"range":["#3444e6","#f03232","#30d430","#e9a03c"]}}}},
   {"mark":{"type":"text","align":"left","baseline":"middle","font":"DejaVu Sans Mono","fontSize":10.5},"encoding":{"x":{"value":10.5},"y":{"field":"ch","type":"nominal","bandPosition":0.49},"text":{"field":"vdiv"},"fill":{"field":"ch","type":"nominal","scale":{"domain":["1","2","3","4"],"range":["#3444e6","#f03232","#30d430","#e9a03c"]}}}}
  ]},
 {"width":328,"height":278.5,
  "data":{"values":[
   {"kind":"line","ch":"1","k":"1","t":0,"v":5.51},{"kind":"line","ch":"1","k":"1","t":3.34,"v":5.51},{"kind":"line","ch":"1","k":"1","t":6.71,"v":7.04},{"kind":"line","ch":"1","k":"1","t":10,"v":7.04},
   {"kind":"line","ch":"2","k":"2","t":0,"v":4.22},{"kind":"line","ch":"2","k":"2","t":10,"v":4.22},
   {"kind":"line","ch":"3","k":"3a","t":0,"v":2.24},{"kind":"line","ch":"3","k":"3a","t":3.34,"v":2.24},{"kind":"line","ch":"3","k":"3a","t":4.6,"v":2.55},
   {"kind":"band","ch":"3","k":"3b","t":4.6,"hi":2.55,"lo":1.97},{"kind":"band","ch":"3","k":"3b","t":6.74,"hi":3.07,"lo":1.97},{"kind":"band","ch":"3","k":"3b","t":10,"hi":3.07,"lo":1.97},
   {"kind":"band","ch":"4","k":"4a","t":0,"hi":1.59,"lo":0.98},{"kind":"band","ch":"4","k":"4a","t":5.12,"hi":1.59,"lo":0.98},
   {"kind":"line","ch":"4","k":"4b","t":5.12,"v":1.59},{"kind":"line","ch":"4","k":"4b","t":10,"v":1.59},
   {"kind":"trig","ch":"1","v":6.2},{"kind":"gnd","ch":"1","v":5},{"kind":"gnd","ch":"2","v":3},{"kind":"gnd","ch":"3","v":2},{"kind":"gnd","ch":"4","v":1},{"kind":"arrow","ch":"1"},
   {"kind":"tb","tb":"2 ms","bw":"BWL"},
   {"kind":"cap","cap":"Figure 15. ADP Voltage Ramps Up in Reverse Mode,\nBuck -> Buck-Boost -> Boost Operation Mode\nTransition"}]},
  "layer":[
   {"data":{"name":"gx"},"mark":{"type":"rule","color":"#9e9e9e","strokeWidth":1},"encoding":{"x":{"field":"d","type":"quantitative","scale":{"domain":[0,10.282],"nice":false,"zero":false}},"y":{"datum":0,"type":"quantitative","scale":{"domain":[0,8],"nice":false,"zero":false}},"y2":{"datum":8}}},
   {"data":{"name":"gy"},"mark":{"type":"rule","color":"#9e9e9e","strokeWidth":1},"encoding":{"y":{"field":"d","type":"quantitative"},"x":{"datum":0,"type":"quantitative"},"x2":{"datum":10}}},
   {"data":{"name":"gdot"},"mark":{"type":"rule","color":"#ababab","strokeWidth":1,"strokeDash":[1.2,4.2]},"encoding":{"y":{"field":"d","type":"quantitative"},"x":{"datum":0.3,"type":"quantitative"},"x2":{"datum":9.9}}},
   {"data":{"name":"mx"},"mark":{"type":"rule","color":"#9e9e9e","strokeWidth":1},"encoding":{"x":{"field":"d","type":"quantitative"},"y":{"datum":3.9,"type":"quantitative"},"y2":{"datum":4.1}}},
   {"data":{"name":"my"},"mark":{"type":"rule","color":"#9e9e9e","strokeWidth":1},"encoding":{"y":{"field":"d","type":"quantitative"},"x":{"datum":4.89,"type":"quantitative"},"x2":{"datum":5.11}}},
   {"data":{"values":[{"t":"LeCroy"}]},"mark":{"type":"text","align":"left","baseline":"top","dx":1.5,"dy":2,"font":"DejaVu Sans Condensed","fontSize":9.5,"fontWeight":"bold","color":"#7c7c7c"},"encoding":{"x":{"datum":0,"type":"quantitative"},"y":{"datum":8,"type":"quantitative"},"text":{"field":"t"}}},
   {"data":{"values":[{"t":"LeCroy"}]},"mark":{"type":"rule","color":"#7c7c7c","strokeWidth":1},"encoding":{"x":{"datum":0.05,"type":"quantitative"},"x2":{"datum":0.8},"y":{"datum":7.6,"type":"quantitative"}}},
   {"transform":[{"filter":"datum.kind=='band'"}],"mark":{"type":"area","opacity":1},"encoding":{"x":{"field":"t","type":"quantitative"},"y":{"field":"hi","type":"quantitative"},"y2":{"field":"lo"},"detail":{"field":"k"},"color":{"field":"ch","type":"nominal","scale":{"domain":["1","2","3","4"],"range":["#1428e6","#e6141e","#00dc00","#e09400"]}}}},
   {"transform":[{"filter":"datum.kind=='line'"}],"mark":{"type":"line","strokeWidth":2},"encoding":{"x":{"field":"t","type":"quantitative"},"y":{"field":"v","type":"quantitative"},"detail":{"field":"k"},"color":{"field":"ch","type":"nominal","scale":{"domain":["1","2","3","4"],"range":["#1428e6","#e6141e","#00dc00","#e09400"]}}}},
   {"transform":[{"filter":"datum.kind=='trig'"}],"mark":{"type":"point","shape":"triangle-right","filled":true,"size":22,"opacity":1},"encoding":{"x":{"datum":-0.09,"type":"quantitative"},"y":{"field":"v","type":"quantitative"},"color":{"field":"ch","type":"nominal","scale":{"domain":["1","2","3","4"],"range":["#1428e6","#e6141e","#00dc00","#e09400"]}}}},
   {"transform":[{"filter":"datum.kind=='trig'"}],"mark":{"type":"point","shape":"triangle-left","filled":true,"size":22,"opacity":1},"encoding":{"x":{"datum":10.1,"type":"quantitative"},"y":{"field":"v","type":"quantitative"},"color":{"field":"ch","type":"nominal","scale":{"domain":["1","2","3","4"],"range":["#1428e6","#e6141e","#00dc00","#e09400"]}}}},
   {"transform":[{"filter":"datum.kind=='gnd'"}],"mark":{"type":"text","align":"left","baseline":"alphabetic","dx":1.2,"dy":-1.5,"font":"Liberation Sans","fontSize":13},"encoding":{"x":{"datum":10,"type":"quantitative"},"y":{"field":"v","type":"quantitative"},"text":{"field":"ch"},"color":{"field":"ch","type":"nominal","scale":{"domain":["1","2","3","4"],"range":["#1428e6","#e6141e","#00dc00","#e09400"]}}}},
   {"transform":[{"filter":"datum.kind=='gnd'"}],"mark":{"type":"rule","strokeWidth":1.4},"encoding":{"x":{"datum":10.03,"type":"quantitative"},"x2":{"datum":10.22},"y":{"field":"v","type":"quantitative"},"color":{"field":"ch","type":"nominal","scale":{"domain":["1","2","3","4"],"range":["#1428e6","#e6141e","#00dc00","#e09400"]}}}},
   {"transform":[{"filter":"datum.kind=='arrow'"}],"mark":{"type":"rule","strokeWidth":2.2},"encoding":{"x":{"datum":5,"type":"quantitative"},"y":{"datum":-0.12,"type":"quantitative"},"y2":{"datum":-0.4},"color":{"field":"ch","type":"nominal","scale":{"domain":["1","2","3","4"],"range":["#1428e6","#e6141e","#00dc00","#e09400"]}}}},
   {"transform":[{"filter":"datum.kind=='arrow'"}],"mark":{"type":"point","shape":"triangle-up","filled":true,"size":28,"opacity":1},"encoding":{"x":{"datum":5,"type":"quantitative"},"y":{"datum":-0.1,"type":"quantitative"},"color":{"field":"ch","type":"nominal","scale":{"domain":["1","2","3","4"],"range":["#1428e6","#e6141e","#00dc00","#e09400"]}}}},
   {"transform":[{"filter":"datum.kind=='tb'"}],"mark":{"type":"text","align":"left","baseline":"middle","font":"DejaVu Sans Mono","fontSize":10,"color":"#a4a4a4"},"encoding":{"x":{"datum":-2.6,"type":"quantitative"},"y":{"datum":-0.31,"type":"quantitative"},"text":{"field":"tb"}}},
   {"transform":[{"filter":"datum.kind=='tb'"}],"mark":{"type":"text","align":"right","baseline":"middle","font":"DejaVu Sans Mono","fontSize":10,"color":"#a4a4a4"},"encoding":{"x":{"datum":-0.35,"type":"quantitative"},"y":{"datum":-0.31,"type":"quantitative"},"text":{"field":"bw"}}},
   {"transform":[{"filter":"datum.kind=='cap'"}],"mark":{"type":"text","align":"center","baseline":"top","font":"Liberation Sans","fontSize":16.9,"fontWeight":"bold","color":"black","lineHeight":22.7,"lineBreak":"\n"},"encoding":{"x":{"datum":3.79,"type":"quantitative"},"y":{"datum":-0.82,"type":"quantitative"},"text":{"field":"cap"}}}
  ]}
 ],"spacing":11,"bounds":"flush"},
{"hconcat":[
 {"width":75,"height":270.5,
  "data":{"values":[{"ch":"1","name":"VADP","tdiv":"2 ms","vdiv":"10.0 V","sel":true},{"ch":"2","name":"REF","tdiv":"2 ms","vdiv":"1.00 V","sel":false}]},
  "encoding":{"y":{"field":"ch","type":"nominal","scale":{"domain":["1","2","3","4"],"paddingInner":0.277,"paddingOuter":0.0567}}},
  "layer":[
   {"mark":{"type":"rect","fill":"white","cornerRadius":3,"strokeWidth":1.2},"encoding":{"x":{"value":0},"x2":{"value":"width"},"stroke":{"field":"ch","type":"nominal","scale":{"domain":["1","2","3","4"],"range":["#6a76ea","#f07474","#66de66","#f0b254"]}}}},
   {"mark":{"type":"text","align":"center","baseline":"middle","dy":1,"font":"Liberation Sans","fontSize":12.5,"fontWeight":"bold","fill":"white","stroke":"white","strokeWidth":4},"encoding":{"x":{"value":4.8},"y":{"field":"ch","type":"nominal","bandPosition":0},"text":{"field":"ch"}}},
   {"mark":{"type":"text","align":"left","baseline":"middle","font":"Liberation Sans","fontSize":11,"fill":"white","stroke":"white","strokeWidth":4},"encoding":{"x":{"value":17},"y":{"field":"ch","type":"nominal","bandPosition":0},"text":{"field":"name"}}},
   {"transform":[{"filter":"datum.sel"}],"mark":{"type":"point","shape":"M-0.45,-0.5H0.45V0.75H-0.45Z","size":256,"filled":false,"strokeWidth":1.3,"opacity":1},"encoding":{"x":{"value":4.8},"y":{"field":"ch","type":"nominal","bandPosition":0},"stroke":{"field":"ch","type":"nominal","scale":{"domain":["1","2","3","4"],"range":["#6a76ea","#f07474","#66de66","#f0b254"]}}}},
   {"mark":{"type":"text","align":"center","baseline":"middle","dy":1,"font":"Liberation Sans","fontSize":12.5,"fontWeight":"bold"},"encoding":{"x":{"value":4.8},"y":{"field":"ch","type":"nominal","bandPosition":0},"text":{"field":"ch"},"fill":{"field":"ch","type":"nominal","scale":{"domain":["1","2","3","4"],"range":["#3444e6","#f03232","#30d430","#e9a03c"]}}}},
   {"mark":{"type":"text","align":"left","baseline":"middle","font":"Liberation Sans","fontSize":11},"encoding":{"x":{"value":17},"y":{"field":"ch","type":"nominal","bandPosition":0},"text":{"field":"name"},"fill":{"field":"ch","type":"nominal","scale":{"domain":["1","2","3","4"],"range":["#3444e6","#f03232","#30d430","#e9a03c"]}}}},
   {"mark":{"type":"text","align":"left","baseline":"middle","font":"DejaVu Sans Mono","fontSize":10.5},"encoding":{"x":{"value":16.5},"y":{"field":"ch","type":"nominal","bandPosition":0.25},"text":{"field":"tdiv"},"fill":{"field":"ch","type":"nominal","scale":{"domain":["1","2","3","4"],"range":["#3444e6","#f03232","#30d430","#e9a03c"]}}}},
   {"mark":{"type":"text","align":"left","baseline":"middle","font":"DejaVu Sans Mono","fontSize":10.5},"encoding":{"x":{"value":10.5},"y":{"field":"ch","type":"nominal","bandPosition":0.49},"text":{"field":"vdiv"},"fill":{"field":"ch","type":"nominal","scale":{"domain":["1","2","3","4"],"range":["#3444e6","#f03232","#30d430","#e9a03c"]}}}}
  ]},
 {"width":378,"height":278.7,
  "data":{"values":[
   {"kind":"line","ch":"1","k":"1","t":0,"v":4.52},{"kind":"line","ch":"1","k":"1","t":3.37,"v":4.52},{"kind":"line","ch":"1","k":"1","t":6.92,"v":6.02},{"kind":"line","ch":"1","k":"1","t":10,"v":6.02},
   {"kind":"line","ch":"2","k":"2","t":0,"v":1.44},{"kind":"line","ch":"2","k":"2","t":3.37,"v":1.44},{"kind":"line","ch":"2","k":"2","t":6.87,"v":2.67},{"kind":"line","ch":"2","k":"2","t":10,"v":2.67},
   {"kind":"trig","ch":"1","v":5.2},{"kind":"gnd","ch":"1","v":4},{"kind":"gnd","ch":"2","v":1},{"kind":"arrow","ch":"1"},
   {"kind":"tb","tb":"2 ms","bw":"BWL"},
   {"kind":"cap","cap":"Figure 16. Reverse Mode, 5VADP to 20VADP"}]},
  "layer":[
   {"data":{"name":"gx"},"mark":{"type":"rule","color":"#9e9e9e","strokeWidth":1},"encoding":{"x":{"field":"d","type":"quantitative","scale":{"domain":[0,11.831],"nice":false,"zero":false}},"y":{"datum":0,"type":"quantitative","scale":{"domain":[0,8],"nice":false,"zero":false}},"y2":{"datum":8}}},
   {"data":{"name":"gy"},"mark":{"type":"rule","color":"#9e9e9e","strokeWidth":1},"encoding":{"y":{"field":"d","type":"quantitative"},"x":{"datum":0,"type":"quantitative"},"x2":{"datum":10}}},
   {"data":{"name":"gdot"},"mark":{"type":"rule","color":"#ababab","strokeWidth":1,"strokeDash":[1.2,4.2]},"encoding":{"y":{"field":"d","type":"quantitative"},"x":{"datum":0.3,"type":"quantitative"},"x2":{"datum":9.9}}},
   {"data":{"name":"mx"},"mark":{"type":"rule","color":"#9e9e9e","strokeWidth":1},"encoding":{"x":{"field":"d","type":"quantitative"},"y":{"datum":3.9,"type":"quantitative"},"y2":{"datum":4.1}}},
   {"data":{"name":"my"},"mark":{"type":"rule","color":"#9e9e9e","strokeWidth":1},"encoding":{"y":{"field":"d","type":"quantitative"},"x":{"datum":4.89,"type":"quantitative"},"x2":{"datum":5.11}}},
   {"data":{"values":[{"t":"LeCroy"}]},"mark":{"type":"text","align":"left","baseline":"top","dx":1.5,"dy":2,"font":"DejaVu Sans Condensed","fontSize":9.5,"fontWeight":"bold","color":"#7c7c7c"},"encoding":{"x":{"datum":0,"type":"quantitative"},"y":{"datum":8,"type":"quantitative"},"text":{"field":"t"}}},
   {"data":{"values":[{"t":"LeCroy"}]},"mark":{"type":"rule","color":"#7c7c7c","strokeWidth":1},"encoding":{"x":{"datum":0.05,"type":"quantitative"},"x2":{"datum":0.8},"y":{"datum":7.6,"type":"quantitative"}}},
   {"data":{"values":[{"t":"top"}]},"mark":{"type":"rule","strokeWidth":0,"strokeOpacity":0},"encoding":{"x":{"datum":0,"type":"quantitative"},"x2":{"datum":10},"y":{"datum":8.24,"type":"quantitative"}}},
   {"data":{"values":[{"t":"bottom"}]},"mark":{"type":"rule","strokeWidth":0,"strokeOpacity":0},"encoding":{"x":{"datum":0,"type":"quantitative"},"x2":{"datum":10},"y":{"datum":-3.674,"type":"quantitative"}}},
   {"transform":[{"filter":"datum.kind=='band'"}],"mark":{"type":"area","opacity":1},"encoding":{"x":{"field":"t","type":"quantitative"},"y":{"field":"hi","type":"quantitative"},"y2":{"field":"lo"},"detail":{"field":"k"},"color":{"field":"ch","type":"nominal","scale":{"domain":["1","2","3","4"],"range":["#1428e6","#e6141e","#00dc00","#e09400"]}}}},
   {"transform":[{"filter":"datum.kind=='line'"}],"mark":{"type":"line","strokeWidth":2},"encoding":{"x":{"field":"t","type":"quantitative"},"y":{"field":"v","type":"quantitative"},"detail":{"field":"k"},"color":{"field":"ch","type":"nominal","scale":{"domain":["1","2","3","4"],"range":["#1428e6","#e6141e","#00dc00","#e09400"]}}}},
   {"transform":[{"filter":"datum.kind=='trig'"}],"mark":{"type":"point","shape":"triangle-right","filled":true,"size":22,"opacity":1},"encoding":{"x":{"datum":-0.09,"type":"quantitative"},"y":{"field":"v","type":"quantitative"},"color":{"field":"ch","type":"nominal","scale":{"domain":["1","2","3","4"],"range":["#1428e6","#e6141e","#00dc00","#e09400"]}}}},
   {"transform":[{"filter":"datum.kind=='trig'"}],"mark":{"type":"point","shape":"triangle-left","filled":true,"size":22,"opacity":1},"encoding":{"x":{"datum":10.1,"type":"quantitative"},"y":{"field":"v","type":"quantitative"},"color":{"field":"ch","type":"nominal","scale":{"domain":["1","2","3","4"],"range":["#1428e6","#e6141e","#00dc00","#e09400"]}}}},
   {"transform":[{"filter":"datum.kind=='gnd'"}],"mark":{"type":"text","align":"left","baseline":"alphabetic","dx":1.2,"dy":-1.5,"font":"Liberation Sans","fontSize":13},"encoding":{"x":{"datum":10,"type":"quantitative"},"y":{"field":"v","type":"quantitative"},"text":{"field":"ch"},"color":{"field":"ch","type":"nominal","scale":{"domain":["1","2","3","4"],"range":["#1428e6","#e6141e","#00dc00","#e09400"]}}}},
   {"transform":[{"filter":"datum.kind=='gnd'"}],"mark":{"type":"rule","strokeWidth":1.4},"encoding":{"x":{"datum":10.03,"type":"quantitative"},"x2":{"datum":10.22},"y":{"field":"v","type":"quantitative"},"color":{"field":"ch","type":"nominal","scale":{"domain":["1","2","3","4"],"range":["#1428e6","#e6141e","#00dc00","#e09400"]}}}},
   {"transform":[{"filter":"datum.kind=='arrow'"}],"mark":{"type":"rule","strokeWidth":2.2},"encoding":{"x":{"datum":5,"type":"quantitative"},"y":{"datum":-0.12,"type":"quantitative"},"y2":{"datum":-0.4},"color":{"field":"ch","type":"nominal","scale":{"domain":["1","2","3","4"],"range":["#1428e6","#e6141e","#00dc00","#e09400"]}}}},
   {"transform":[{"filter":"datum.kind=='arrow'"}],"mark":{"type":"point","shape":"triangle-up","filled":true,"size":28,"opacity":1},"encoding":{"x":{"datum":5,"type":"quantitative"},"y":{"datum":-0.1,"type":"quantitative"},"color":{"field":"ch","type":"nominal","scale":{"domain":["1","2","3","4"],"range":["#1428e6","#e6141e","#00dc00","#e09400"]}}}},
   {"transform":[{"filter":"datum.kind=='tb'"}],"mark":{"type":"text","align":"left","baseline":"middle","font":"DejaVu Sans Mono","fontSize":10,"color":"#a4a4a4"},"encoding":{"x":{"datum":-2.6,"type":"quantitative"},"y":{"datum":-0.31,"type":"quantitative"},"text":{"field":"tb"}}},
   {"transform":[{"filter":"datum.kind=='tb'"}],"mark":{"type":"text","align":"right","baseline":"middle","font":"DejaVu Sans Mono","fontSize":10,"color":"#a4a4a4"},"encoding":{"x":{"datum":-0.35,"type":"quantitative"},"y":{"datum":-0.31,"type":"quantitative"},"text":{"field":"bw"}}},
   {"transform":[{"filter":"datum.kind=='cap'"}],"mark":{"type":"text","align":"center","baseline":"top","font":"Liberation Sans","fontSize":16.9,"fontWeight":"bold","color":"black","lineHeight":22.7,"lineBreak":"\n"},"encoding":{"x":{"datum":3.79,"type":"quantitative"},"y":{"datum":-0.82,"type":"quantitative"},"text":{"field":"cap"}}}
  ]},
 {"width":75,"height":270.5,
  "data":{"values":[{"ch":"1","name":"VADP","tdiv":"2 ms","vdiv":"10.0 V","sel":true},{"ch":"2","name":"REF","tdiv":"2 ms","vdiv":"1.00 V","sel":false}]},
  "encoding":{"y":{"field":"ch","type":"nominal","scale":{"domain":["1","2","3","4"],"paddingInner":0.277,"paddingOuter":0.0567}}},
  "layer":[
   {"mark":{"type":"rect","fill":"white","cornerRadius":3,"strokeWidth":1.2},"encoding":{"x":{"value":0},"x2":{"value":"width"},"stroke":{"field":"ch","type":"nominal","scale":{"domain":["1","2","3","4"],"range":["#6a76ea","#f07474","#66de66","#f0b254"]}}}},
   {"mark":{"type":"text","align":"center","baseline":"middle","dy":1,"font":"Liberation Sans","fontSize":12.5,"fontWeight":"bold","fill":"white","stroke":"white","strokeWidth":4},"encoding":{"x":{"value":4.8},"y":{"field":"ch","type":"nominal","bandPosition":0},"text":{"field":"ch"}}},
   {"mark":{"type":"text","align":"left","baseline":"middle","font":"Liberation Sans","fontSize":11,"fill":"white","stroke":"white","strokeWidth":4},"encoding":{"x":{"value":17},"y":{"field":"ch","type":"nominal","bandPosition":0},"text":{"field":"name"}}},
   {"transform":[{"filter":"datum.sel"}],"mark":{"type":"point","shape":"M-0.45,-0.5H0.45V0.75H-0.45Z","size":256,"filled":false,"strokeWidth":1.3,"opacity":1},"encoding":{"x":{"value":4.8},"y":{"field":"ch","type":"nominal","bandPosition":0},"stroke":{"field":"ch","type":"nominal","scale":{"domain":["1","2","3","4"],"range":["#6a76ea","#f07474","#66de66","#f0b254"]}}}},
   {"mark":{"type":"text","align":"center","baseline":"middle","dy":1,"font":"Liberation Sans","fontSize":12.5,"fontWeight":"bold"},"encoding":{"x":{"value":4.8},"y":{"field":"ch","type":"nominal","bandPosition":0},"text":{"field":"ch"},"fill":{"field":"ch","type":"nominal","scale":{"domain":["1","2","3","4"],"range":["#3444e6","#f03232","#30d430","#e9a03c"]}}}},
   {"mark":{"type":"text","align":"left","baseline":"middle","font":"Liberation Sans","fontSize":11},"encoding":{"x":{"value":17},"y":{"field":"ch","type":"nominal","bandPosition":0},"text":{"field":"name"},"fill":{"field":"ch","type":"nominal","scale":{"domain":["1","2","3","4"],"range":["#3444e6","#f03232","#30d430","#e9a03c"]}}}},
   {"mark":{"type":"text","align":"left","baseline":"middle","font":"DejaVu Sans Mono","fontSize":10.5},"encoding":{"x":{"value":16.5},"y":{"field":"ch","type":"nominal","bandPosition":0.25},"text":{"field":"tdiv"},"fill":{"field":"ch","type":"nominal","scale":{"domain":["1","2","3","4"],"range":["#3444e6","#f03232","#30d430","#e9a03c"]}}}},
   {"mark":{"type":"text","align":"left","baseline":"middle","font":"DejaVu Sans Mono","fontSize":10.5},"encoding":{"x":{"value":10.5},"y":{"field":"ch","type":"nominal","bandPosition":0.49},"text":{"field":"vdiv"},"fill":{"field":"ch","type":"nominal","scale":{"domain":["1","2","3","4"],"range":["#3444e6","#f03232","#30d430","#e9a03c"]}}}}
  ]},
 {"width":328,"height":278.7,
  "data":{"values":[
   {"kind":"line","ch":"1","k":"1","t":0,"v":6.05},{"kind":"line","ch":"1","k":"1","t":3.27,"v":6.05},{"kind":"line","ch":"1","k":"1","t":6.54,"v":4.52},{"kind":"line","ch":"1","k":"1","t":10,"v":4.52},
   {"kind":"line","ch":"2","k":"2","t":0,"v":2.68},{"kind":"line","ch":"2","k":"2","t":3.27,"v":2.68},{"kind":"line","ch":"2","k":"2","t":6.51,"v":1.44},{"kind":"line","ch":"2","k":"2","t":10,"v":1.44},
   {"kind":"trig","ch":"1","v":5.2},{"kind":"gnd","ch":"1","v":4},{"kind":"gnd","ch":"2","v":1},{"kind":"arrow","ch":"1"},
   {"kind":"tb","tb":"2 ms","bw":"BWL"},
   {"kind":"cap","cap":"Figure 17. Reverse Mode, 20VADP to 5VADP"}]},
  "layer":[
   {"data":{"name":"gx"},"mark":{"type":"rule","color":"#9e9e9e","strokeWidth":1},"encoding":{"x":{"field":"d","type":"quantitative","scale":{"domain":[0,10.295],"nice":false,"zero":false}},"y":{"datum":0,"type":"quantitative","scale":{"domain":[0,8],"nice":false,"zero":false}},"y2":{"datum":8}}},
   {"data":{"name":"gy"},"mark":{"type":"rule","color":"#9e9e9e","strokeWidth":1},"encoding":{"y":{"field":"d","type":"quantitative"},"x":{"datum":0,"type":"quantitative"},"x2":{"datum":10}}},
   {"data":{"name":"gdot"},"mark":{"type":"rule","color":"#ababab","strokeWidth":1,"strokeDash":[1.2,4.2]},"encoding":{"y":{"field":"d","type":"quantitative"},"x":{"datum":0.3,"type":"quantitative"},"x2":{"datum":9.9}}},
   {"data":{"name":"mx"},"mark":{"type":"rule","color":"#9e9e9e","strokeWidth":1},"encoding":{"x":{"field":"d","type":"quantitative"},"y":{"datum":3.9,"type":"quantitative"},"y2":{"datum":4.1}}},
   {"data":{"name":"my"},"mark":{"type":"rule","color":"#9e9e9e","strokeWidth":1},"encoding":{"y":{"field":"d","type":"quantitative"},"x":{"datum":4.89,"type":"quantitative"},"x2":{"datum":5.11}}},
   {"data":{"values":[{"t":"LeCroy"}]},"mark":{"type":"text","align":"left","baseline":"top","dx":1.5,"dy":2,"font":"DejaVu Sans Condensed","fontSize":9.5,"fontWeight":"bold","color":"#7c7c7c"},"encoding":{"x":{"datum":0,"type":"quantitative"},"y":{"datum":8,"type":"quantitative"},"text":{"field":"t"}}},
   {"data":{"values":[{"t":"LeCroy"}]},"mark":{"type":"rule","color":"#7c7c7c","strokeWidth":1},"encoding":{"x":{"datum":0.05,"type":"quantitative"},"x2":{"datum":0.8},"y":{"datum":7.6,"type":"quantitative"}}},
   {"transform":[{"filter":"datum.kind=='band'"}],"mark":{"type":"area","opacity":1},"encoding":{"x":{"field":"t","type":"quantitative"},"y":{"field":"hi","type":"quantitative"},"y2":{"field":"lo"},"detail":{"field":"k"},"color":{"field":"ch","type":"nominal","scale":{"domain":["1","2","3","4"],"range":["#1428e6","#e6141e","#00dc00","#e09400"]}}}},
   {"transform":[{"filter":"datum.kind=='line'"}],"mark":{"type":"line","strokeWidth":2},"encoding":{"x":{"field":"t","type":"quantitative"},"y":{"field":"v","type":"quantitative"},"detail":{"field":"k"},"color":{"field":"ch","type":"nominal","scale":{"domain":["1","2","3","4"],"range":["#1428e6","#e6141e","#00dc00","#e09400"]}}}},
   {"transform":[{"filter":"datum.kind=='trig'"}],"mark":{"type":"point","shape":"triangle-right","filled":true,"size":22,"opacity":1},"encoding":{"x":{"datum":-0.09,"type":"quantitative"},"y":{"field":"v","type":"quantitative"},"color":{"field":"ch","type":"nominal","scale":{"domain":["1","2","3","4"],"range":["#1428e6","#e6141e","#00dc00","#e09400"]}}}},
   {"transform":[{"filter":"datum.kind=='trig'"}],"mark":{"type":"point","shape":"triangle-left","filled":true,"size":22,"opacity":1},"encoding":{"x":{"datum":10.1,"type":"quantitative"},"y":{"field":"v","type":"quantitative"},"color":{"field":"ch","type":"nominal","scale":{"domain":["1","2","3","4"],"range":["#1428e6","#e6141e","#00dc00","#e09400"]}}}},
   {"transform":[{"filter":"datum.kind=='gnd'"}],"mark":{"type":"text","align":"left","baseline":"alphabetic","dx":1.2,"dy":-1.5,"font":"Liberation Sans","fontSize":13},"encoding":{"x":{"datum":10,"type":"quantitative"},"y":{"field":"v","type":"quantitative"},"text":{"field":"ch"},"color":{"field":"ch","type":"nominal","scale":{"domain":["1","2","3","4"],"range":["#1428e6","#e6141e","#00dc00","#e09400"]}}}},
   {"transform":[{"filter":"datum.kind=='gnd'"}],"mark":{"type":"rule","strokeWidth":1.4},"encoding":{"x":{"datum":10.03,"type":"quantitative"},"x2":{"datum":10.22},"y":{"field":"v","type":"quantitative"},"color":{"field":"ch","type":"nominal","scale":{"domain":["1","2","3","4"],"range":["#1428e6","#e6141e","#00dc00","#e09400"]}}}},
   {"transform":[{"filter":"datum.kind=='arrow'"}],"mark":{"type":"rule","strokeWidth":2.2},"encoding":{"x":{"datum":5,"type":"quantitative"},"y":{"datum":-0.12,"type":"quantitative"},"y2":{"datum":-0.4},"color":{"field":"ch","type":"nominal","scale":{"domain":["1","2","3","4"],"range":["#1428e6","#e6141e","#00dc00","#e09400"]}}}},
   {"transform":[{"filter":"datum.kind=='arrow'"}],"mark":{"type":"point","shape":"triangle-up","filled":true,"size":28,"opacity":1},"encoding":{"x":{"datum":5,"type":"quantitative"},"y":{"datum":-0.1,"type":"quantitative"},"color":{"field":"ch","type":"nominal","scale":{"domain":["1","2","3","4"],"range":["#1428e6","#e6141e","#00dc00","#e09400"]}}}},
   {"transform":[{"filter":"datum.kind=='tb'"}],"mark":{"type":"text","align":"left","baseline":"middle","font":"DejaVu Sans Mono","fontSize":10,"color":"#a4a4a4"},"encoding":{"x":{"datum":-2.6,"type":"quantitative"},"y":{"datum":-0.31,"type":"quantitative"},"text":{"field":"tb"}}},
   {"transform":[{"filter":"datum.kind=='tb'"}],"mark":{"type":"text","align":"right","baseline":"middle","font":"DejaVu Sans Mono","fontSize":10,"color":"#a4a4a4"},"encoding":{"x":{"datum":-0.35,"type":"quantitative"},"y":{"datum":-0.31,"type":"quantitative"},"text":{"field":"bw"}}},
   {"transform":[{"filter":"datum.kind=='cap'"}],"mark":{"type":"text","align":"center","baseline":"top","font":"Liberation Sans","fontSize":16.9,"fontWeight":"bold","color":"black","lineHeight":22.7,"lineBreak":"\n"},"encoding":{"x":{"datum":3.79,"type":"quantitative"},"y":{"datum":-0.82,"type":"quantitative"},"text":{"field":"cap"}}}
  ]}
 ],"spacing":11,"bounds":"flush"},
{"width":949,"height":80,
 "layer":[
  {"data":{"values":[{"t":"rule"}]},"mark":{"type":"rect","color":"#2f3e98"},"encoding":{"x":{"value":0},"x2":{"value":"width"},"y":{"value":17.5},"y2":{"value":23.5}}},
  {"data":{"values":[{"t":"R12UZ0059EU0100\u00a0 Rev.1.00"}]},"mark":{"type":"text","align":"left","baseline":"middle","font":"Liberation Sans","fontSize":18.7,"color":"black"},"encoding":{"x":{"value":0},"y":{"value":41},"text":{"field":"t"}}},
  {"data":{"values":[{"t":"Oct.31.19"}]},"mark":{"type":"text","align":"left","baseline":"middle","font":"Liberation Sans","fontSize":18.7,"color":"black"},"encoding":{"x":{"value":0},"y":{"value":63},"text":{"field":"t"}}},
  {"data":{"values":[{"t":"Page 18 of 22"}]},"mark":{"type":"text","align":"right","baseline":"middle","font":"Liberation Sans","fontSize":18.7,"color":"black"},"encoding":{"x":{"value":"width"},"y":{"value":41},"text":{"field":"t"}}},
  {"data":{"values":[{"t":"RENESAS"}]},"mark":{"type":"text","align":"center","baseline":"middle","font":"DejaVu Sans","fontSize":28,"fontWeight":"bold","color":"#2f3e98"},"encoding":{"x":{"value":476},"y":{"value":42.5},"text":{"field":"t"}}}
 ]}
]
}
